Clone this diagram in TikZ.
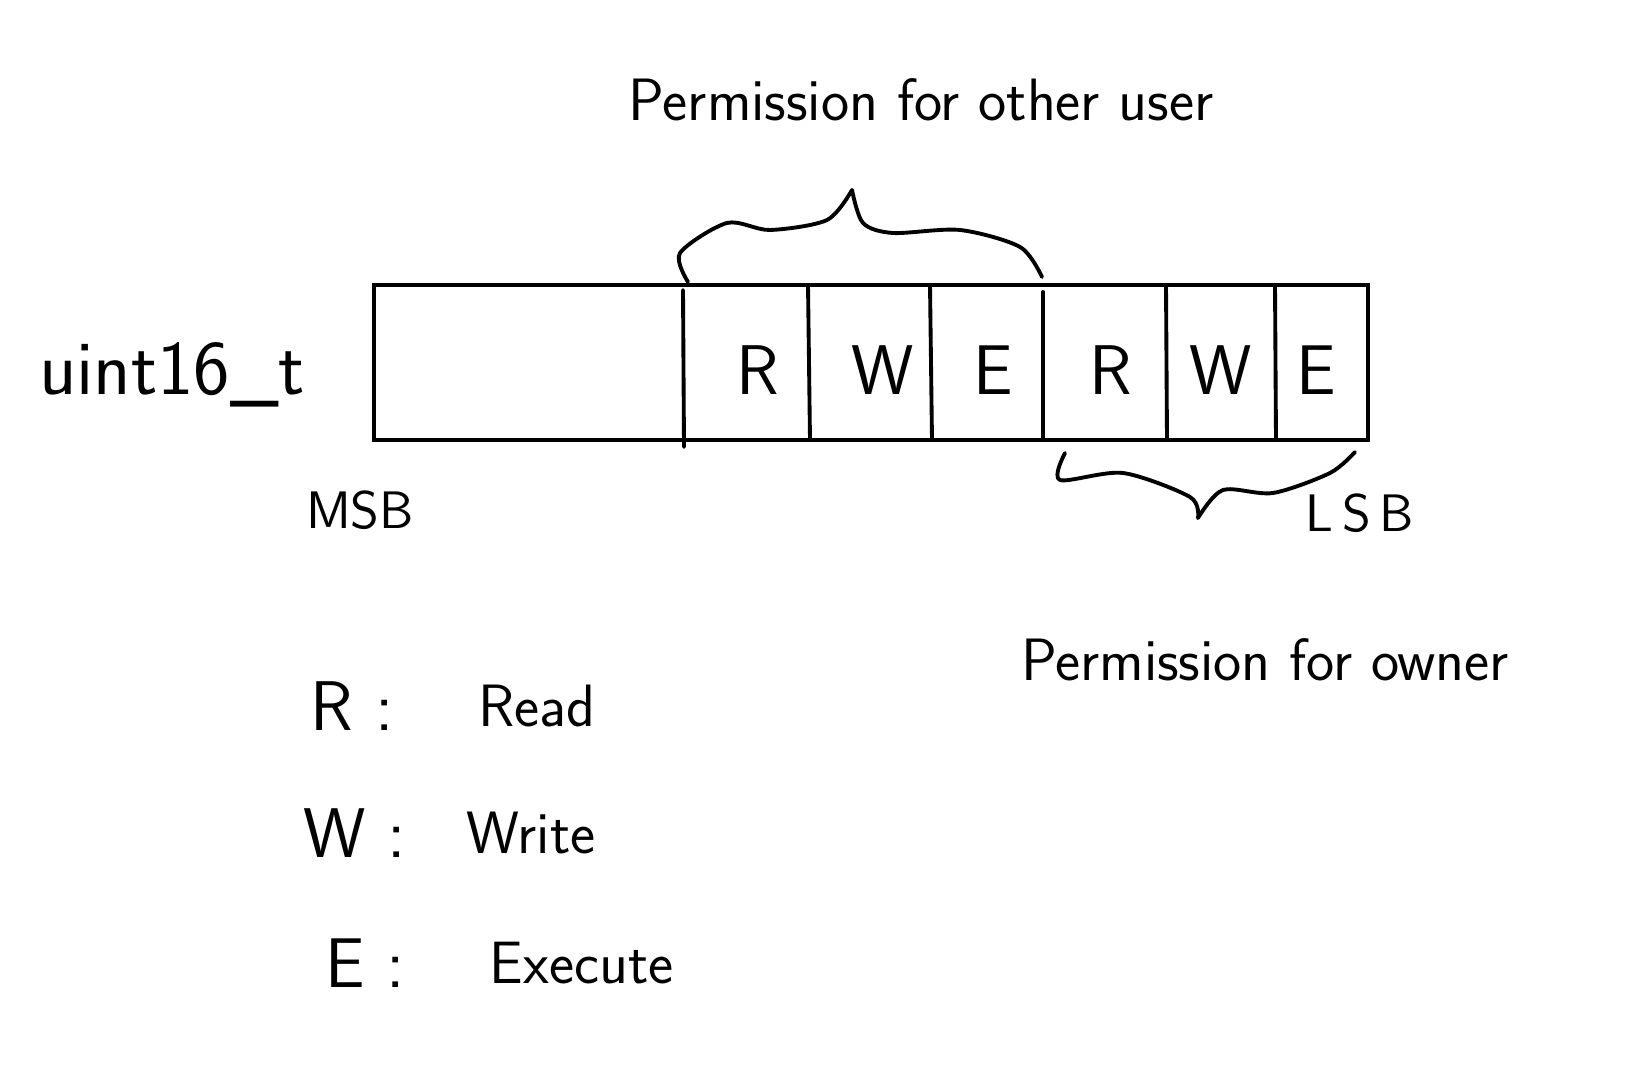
\documentclass[tikz,border=0pt]{standalone}
\usetikzlibrary{positioning}
\tikzset{
  hand/.style={line width=1.1pt, line cap=round, line join=round},
  bit/.style={font=\sffamily\fontsize{20}{24}\selectfont},
  key/.style={font=\sffamily\fontsize{20}{24}\selectfont},
  word/.style={font=\sffamily\fontsize{17}{20}\selectfont, anchor=west},
  lbl/.style={font=\sffamily\fontsize{15}{18}\selectfont},
  title/.style={font=\sffamily\fontsize{17}{20}\selectfont},
}

\begin{document}
\begin{tikzpicture}[x=0.01cm, y=-0.01cm]
  \useasboundingbox (0,0) rectangle (1651,1071);

  % the 16 bit word
  \coordinate (nw) at (374,285);
  \coordinate (se) at (1368,440);
  \draw [line width=0.9pt] (nw) rectangle (se);
  \draw [hand] (683,290) -- (684,447);
  \draw [hand] (808,285) -- (810,440);
  \draw [hand] (930,285) -- (932,440);
  \draw [hand] (1043,292) -- (1043,440);
  \draw [hand] (1166,285) -- (1167,440);
  \draw [hand] (1275,285) -- (1276,440);

  \node [bit] (r1) at (758,370) {R};
  \node [bit] (w1) at (883,370) {W};
  \node [bit] (e1) at (993,370) {E};
  \node [bit] (r2) at (1111,370) {R};
  \node [bit] (w2) at (1221,370) {W};
  \node [bit] (e2) at (1316,370) {E};

  \node [font=\sffamily\fontsize{22}{26}\selectfont] (type) at (172,375) {uint16\_t};
  \node [lbl] (msb) at (360,510) {MSB};
  \node [lbl] (lsb) at (1360,513) {L\,S\,B};

  % braces
  \coordinate (otip) at (852,190);
  \draw [hand] plot [smooth] coordinates {(688,282) (680,253) (727,223) (770,230) (827,220) (otip)};
  \draw [hand] plot [smooth] coordinates {(otip) (863,223) (893,233) (960,230) (1020,247) (1042,277)};
  \node [title] (other) at (921,100) {Permission for other user};

  \coordinate (wtip) at (1198,518);
  \draw [hand] plot [smooth] coordinates {(1065,453) (1060,480) (1123,473) (1190,497) (wtip)};
  \draw [hand] plot [smooth] coordinates {(wtip) (1223,490) (1273,493) (1330,473) (1355,452)};
  \node [title] (owner) at (1265,660) {Permission for owner};

  % legend
  \node [key] (kr) at (352,706) {R :};
  \node [key] (kw) at (355,833) {W :};
  \node [key] (ke) at (365,963) {E :};
  \node [word,right=0.6cm of kr.east] (read) {Read};
  \node [word,right=0.35cm of kw.east] (write) {Write};
  \node [word,right=0.6cm of ke.east] (exec) {Execute};

\end{tikzpicture}
\end{document}
